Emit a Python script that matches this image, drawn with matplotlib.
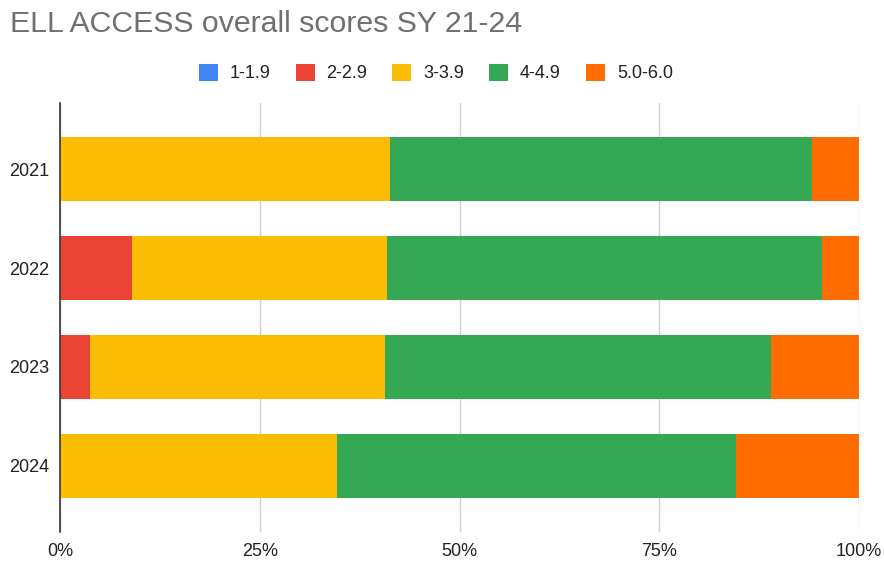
import matplotlib.pyplot as plt
from matplotlib.patches import Patch
import numpy as np

# Data (percent of students per score band)
years = ["2021", "2022", "2023", "2024"]
bands = ["1-1.9", "2-2.9", "3-3.9", "4-4.9", "5.0-6.0"]
band_1 = [0.0, 0.0, 0.0, 0.0]
band_2 = [0.0, 9.0, 3.7, 0.0]
band_3 = [41.3, 31.9, 37.0, 34.7]
band_4 = [52.8, 54.5, 48.3, 49.9]
band_5 = [5.9, 4.6, 11.0, 15.4]
colors = ["#4285F4", "#EA4335", "#FBBC04", "#34A853", "#FF6D01"]

plt.rcParams["font.family"] = ["Liberation Sans", "DejaVu Sans"]

fig = plt.figure(figsize=(8.84, 5.64), dpi=100)
ax = fig.add_axes([60 / 884, 32 / 564, 799 / 884, 429 / 564])

y = np.arange(len(years))
left = np.zeros(len(years))
for vals, color in zip([band_1, band_2, band_3, band_4, band_5], colors):
    ax.barh(y, vals, left=left, height=0.65, color=color, zorder=3)
    left += np.array(vals)

ax.set_xlim(0, 100)
ax.set_ylim(3.67, -0.67)
ax.set_xticks([0, 25, 50, 75, 100])
ax.set_xticklabels(["0%", "25%", "50%", "75%", "100%"], fontsize=13)
ax.set_yticks(y)
ax.set_yticklabels(years, fontsize=13)
ax.tick_params(length=0, colors="#222222")
ax.tick_params(axis="x", pad=8)
ax.tick_params(axis="y", pad=8)

# Grid
ax.grid(axis="x", color="#cccccc", linewidth=1, zorder=0)
for side in ["top", "right", "bottom"]:
    ax.spines[side].set_visible(False)
ax.spines["left"].set_color("#333333")
ax.spines["left"].set_linewidth(1.2)
ax.spines["left"].set_zorder(4)

# Title and legend
fig.text(10 / 884, 1 - 24 / 564, "ELL ACCESS overall scores SY 21-24",
         fontsize=21.8, color="#707070", va="center", ha="left")
handles = [Patch(facecolor=c, edgecolor="none") for c in colors]
fig.legend(handles, bands, loc="center", bbox_to_anchor=(0.493, 1 - 73 / 564),
           ncol=5, frameon=False, fontsize=13, handlelength=1.05, handleheight=1.1,
           handletextpad=0.65, columnspacing=1.4, labelcolor="#222222")

fig.savefig("out.png", dpi=100, facecolor="white")
